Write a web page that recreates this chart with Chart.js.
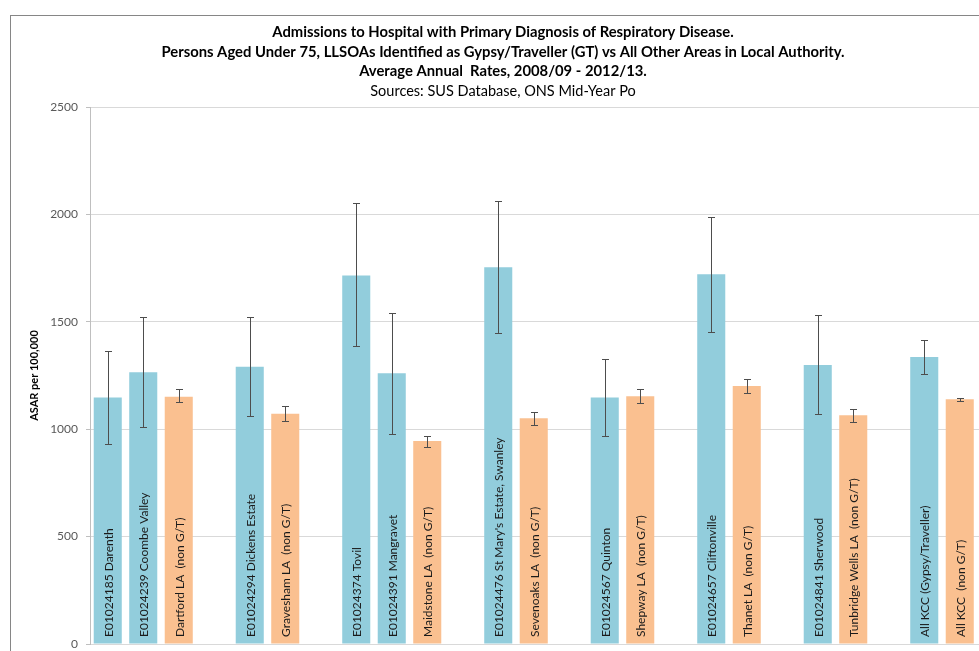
<!DOCTYPE html>
<html>
<head>
<meta charset="utf-8">
<title>Respiratory admissions, GT vs other areas</title>
<script src="https://cdn.jsdelivr.net/npm/chart.js@4/dist/chart.umd.min.js"></script>
<style>
  html, body { margin: 0; padding: 0; background: #ffffff; overflow: hidden; }
  #wrap { width: 1013px; height: 651px; }
</style>
</head>
<body>
<div id="wrap"><canvas id="chart" width="1013" height="651"></canvas></div>
<script>
// Areas in plotting order; empty strings are spacer slots between local authorities
const categories = [
  'E01024185 Darenth', 'E01024239 Coombe Valley', 'Dartford LA  (non G/T)', '',
  'E01024294 Dickens Estate', 'Gravesham LA  (non G/T)', '',
  'E01024374 Tovil', 'E01024391 Mangravet', 'Maidstone LA  (non G/T)', '',
  "E01024476 St Mary's Estate, Swanley", 'Sevenoaks LA  (non G/T)', '',
  'E01024567 Quinton', 'Shepway LA  (non G/T)', '',
  'E01024657 Cliftonville', 'Thanet LA  (non G/T)', '',
  'E01024841 Sherwood', 'Tunbridge Wells LA  (non G/T)', '',
  'All KCC (Gypsy/Traveller)', 'All KCC  (non G/T)', ''
];

// Area type: GT = Gypsy/Traveller LSOA, LA = rest of local authority
const areaType = [
  'GT', 'GT', 'LA', null,
  'GT', 'LA', null,
  'GT', 'GT', 'LA', null,
  'GT', 'LA', null,
  'GT', 'LA', null,
  'GT', 'LA', null,
  'GT', 'LA', null,
  'GT', 'LA', null
];

// Age-standardised admission rate per 100,000
const asar = [
  1147, 1265, 1151, null,
  1291, 1072, null,
  1716, 1260, 945, null,
  1754, 1051, null,
  1147, 1153, null,
  1721, 1201, null,
  1299, 1065, null,
  1336, 1139, null
];

// 95% confidence limits
const lowerCI = [
  930, 1009, 1125, null,
  1063, 1040, null,
  1386, 978, 919, null,
  1446, 1020, null,
  967, 1124, null,
  1454, 1170, null,
  1069, 1034, null,
  1257, 1131, null
];
const upperCI = [
  1364, 1524, 1186, null,
  1524, 1107, null,
  2053, 1541, 968, null,
  2064, 1082, null,
  1327, 1186, null,
  1986, 1232, null,
  1533, 1096, null,
  1414, 1147, null
];

const yTicks = [0, 500, 1000, 1500, 2000, 2500];

const titleLines = [
  'Admissions to Hospital with Primary Diagnosis of Respiratory Disease.',
  'Persons Aged Under 75, LLSOAs Identified as Gypsy/Traveller (GT) vs All Other Areas in Local Authority.',
  'Average Annual  Rates, 2008/09 - 2012/13.'
];
const sourceLine = 'Sources: SUS Database, ONS Mid-Year Po';

const typeColours = { GT: '#92cddc', LA: '#fac090' };
const FONT = 'Lato, "Open Sans", sans-serif';

// Outer frame and the heading block
const framePlugin = {
  id: 'frame',
  beforeDraw(chart) {
    const ctx = chart.ctx;
    ctx.save();
    ctx.fillStyle = '#ffffff';
    ctx.fillRect(0, 0, chart.width, chart.height);
    ctx.strokeStyle = '#868686';
    ctx.lineWidth = 1;
    ctx.strokeRect(10.5, 15.5, chart.width + 20, chart.height + 20);
    ctx.fillStyle = '#000000';
    ctx.textAlign = 'center';
    ctx.textBaseline = 'alphabetic';
    const cx = 503;
    const baselines = [37, 56.5, 76];
    ctx.font = 'bold 14.8px ' + FONT;
    titleLines.forEach((t, i) => ctx.fillText(t, cx, baselines[i]));
    ctx.font = '14.5px ' + FONT;
    ctx.fillText(sourceLine, cx, 95.5);
    ctx.restore();
  }
};

// Confidence-interval whiskers and the rotated names inside each bar
const barExtrasPlugin = {
  id: 'barExtras',
  afterDatasetsDraw(chart) {
    const ctx = chart.ctx;
    const meta = chart.getDatasetMeta(0);
    const y = chart.scales.y;
    ctx.save();
    meta.data.forEach((bar, i) => {
      if (asar[i] === null) return;
      const x = Math.round(bar.x) + 0.5;
      const yLo = Math.round(y.getPixelForValue(lowerCI[i])) + 0.5;
      const yHi = Math.round(y.getPixelForValue(upperCI[i])) + 0.5;
      ctx.strokeStyle = '#4d4d4d';
      ctx.lineWidth = 1;
      ctx.beginPath();
      ctx.moveTo(x, yLo); ctx.lineTo(x, yHi);
      ctx.moveTo(x - 3.5, yLo); ctx.lineTo(x + 3.5, yLo);
      ctx.moveTo(x - 3.5, yHi); ctx.lineTo(x + 3.5, yHi);
      ctx.stroke();

      ctx.save();
      ctx.translate(bar.x + 1, y.getPixelForValue(0) - 7);
      ctx.rotate(-Math.PI / 2);
      ctx.fillStyle = '#1a1a1a';
      ctx.font = '12px ' + FONT;
      ctx.textAlign = 'left';
      ctx.textBaseline = 'middle';
      ctx.fillText(categories[i], 0, 0);
      ctx.restore();
    });
    ctx.restore();
  }
};

new Chart(document.getElementById('chart'), {
  type: 'bar',
  data: {
    labels: categories,
    datasets: [{
      label: 'ASAR per 100,000',
      data: asar,
      backgroundColor: areaType.map(t => t ? typeColours[t] : 'transparent'),
      borderWidth: 0,
      categoryPercentage: 1,
      barPercentage: 0.79
    }]
  },
  options: {
    responsive: false,
    animation: false,
    devicePixelRatio: 1,
    layout: { padding: { top: 107, left: 0, right: 0, bottom: 7 } },
    plugins: {
      legend: { display: false },
      title: { display: false },
      tooltip: { enabled: false }
    },
    scales: {
      x: {
        type: 'category',
        offset: true,
        afterFit(scale) { scale.height = 0; scale.paddingLeft = 0; scale.paddingRight = 0; },
        grid: { display: false, drawTicks: false },
        border: { display: true, color: '#d9d9d9' },
        ticks: { display: false }
      },
      y: {
        min: 0,
        max: 2500,
        afterBuildTicks(scale) { scale.ticks = yTicks.map(v => ({ value: v })); },
        afterFit(scale) { scale.width = 90; scale.paddingTop = 0; scale.paddingBottom = 0; },
        grid: { color: '#d9d9d9', tickLength: 4, tickColor: '#bfbfbf' },
        border: { display: true, color: '#bfbfbf' },
        ticks: {
          padding: 8,
          color: '#595959',
          font: { family: FONT, size: 12 },
          callback: v => String(v)
        },
        title: {
          display: true,
          text: 'ASAR per 100,000',
          color: '#000000',
          font: { family: FONT, size: 11, weight: 'bold' },
          padding: { top: 28, bottom: 0 }
        }
      }
    }
  },
  plugins: [framePlugin, barExtrasPlugin]
});
</script>
</body>
</html>
